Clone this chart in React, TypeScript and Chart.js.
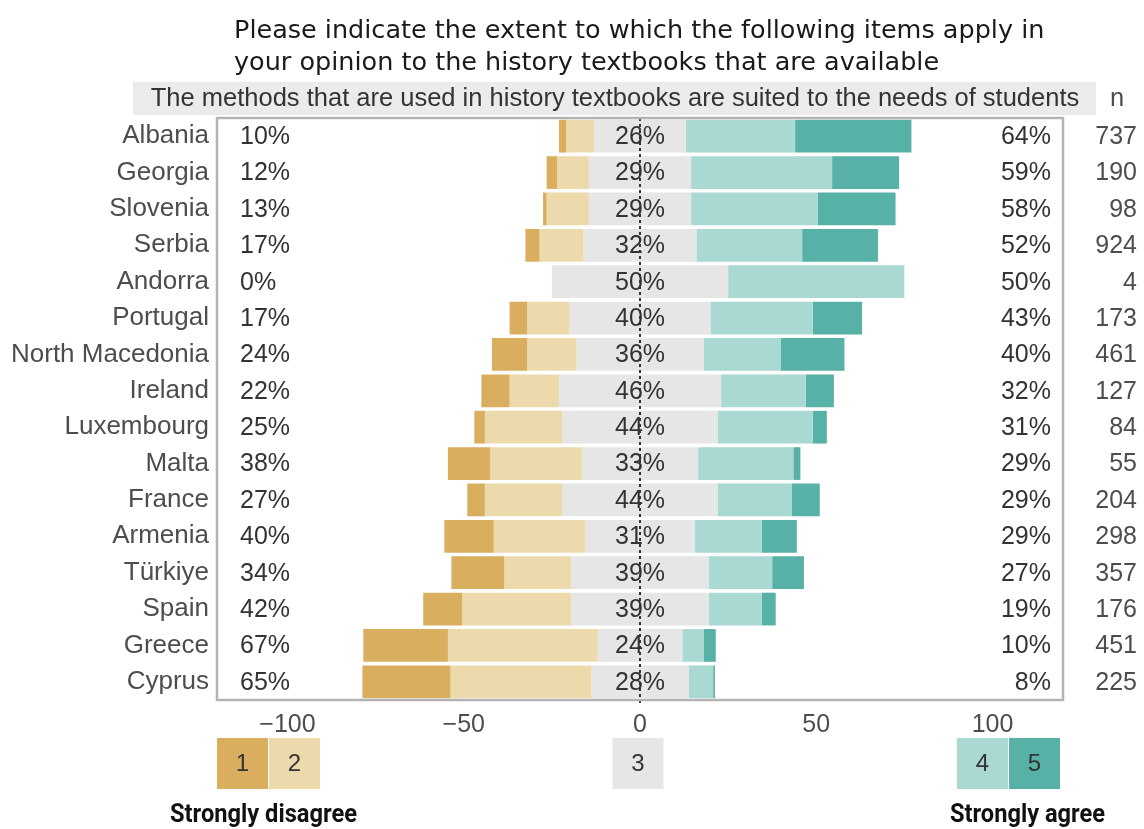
import React, { useEffect, useRef } from "react";
import { Chart, registerables } from "chart.js";

Chart.register(...registerables);

const TITLE_LINES = [
  "Please indicate the extent to which the following items apply in",
  "your opinion to the history textbooks that are available",
];
const ITEM_LABEL = "The methods that are used in history textbooks are suited to the needs of students";
const N_HEADER = "n";

const COUNTRIES = [
  "Albania", "Georgia", "Slovenia", "Serbia", "Andorra", "Portugal", "North Macedonia", "Ireland",
  "Luxembourg", "Malta", "France", "Armenia", "Türkiye", "Spain", "Greece", "Cyprus",
];
const STRONGLY_DISAGREE = [2, 3, 1, 4, 0, 5, 10, 8, 3, 12, 5, 14, 15, 11, 24, 25];
const DISAGREE = [8, 9, 12, 12.5, 0, 12, 14, 14, 22, 26, 22, 26, 19, 31, 42.5, 40];
const NEUTRAL = [26, 29, 29, 32, 50, 40, 36, 46, 44, 33, 44, 31, 39, 39, 24, 27.5];
const AGREE = [31, 40, 36, 30, 50, 29, 22, 24, 27, 27, 21, 19, 18, 15, 6, 7];
const STRONGLY_AGREE = [33, 19, 22, 21.5, 0, 14, 18, 8, 4, 2, 8, 10, 9, 4, 3.5, 0.5];
const N_RESP = [737, 190, 98, 924, 4, 173, 461, 127, 84, 55, 204, 298, 357, 176, 451, 225];

const X_TICKS = [-100, -50, 0, 50, 100];
const LEVELS = ["1", "2", "3", "4", "5"];
const LEFT_CAPTION = "Strongly disagree";
const RIGHT_CAPTION = "Strongly agree";

const COLORS = ["#d9ae5f", "#ecd9ac", "#e6e6e6", "#aad9d4", "#58b1a6"];
const FONT = '"Liberation Sans", Arial, sans-serif';

function segments() {
  const sd: [number, number][] = [];
  const d: [number, number][] = [];
  const ne: [number, number][] = [];
  const a: [number, number][] = [];
  const sa: [number, number][] = [];
  COUNTRIES.forEach((_, i) => {
    const h = NEUTRAL[i] / 2;
    sd.push([-h - DISAGREE[i] - STRONGLY_DISAGREE[i], -h - DISAGREE[i]]);
    d.push([-h - DISAGREE[i], -h]);
    ne.push([-h, h]);
    a.push([h, h + AGREE[i]]);
    sa.push([h + AGREE[i], h + AGREE[i] + STRONGLY_AGREE[i]]);
  });
  return [sd, d, ne, a, sa];
}

const overlay = {
  id: "overlay",
  afterDatasetsDraw(chart: any) {
    const { ctx, chartArea: area, scales } = chart;
    const x = scales.x;
    const y = scales.y;
    ctx.save();
    ctx.font = `25px ${FONT}`;
    ctx.textBaseline = "middle";
    COUNTRIES.forEach((_, i) => {
      const yc = y.getPixelForValue(i) + 1;
      ctx.fillStyle = "#333333";
      ctx.textAlign = "left";
      ctx.fillText(`${Math.round(STRONGLY_DISAGREE[i] + DISAGREE[i])}%`, area.left + 23, yc);
      ctx.textAlign = "center";
      ctx.fillText(`${Math.round(NEUTRAL[i])}%`, x.getPixelForValue(0), yc);
      ctx.textAlign = "right";
      ctx.fillText(`${Math.round(AGREE[i] + STRONGLY_AGREE[i])}%`, area.right - 12, yc);
      ctx.fillStyle = "#4d4d4d";
      ctx.fillText(String(N_RESP[i]), area.right + 74, yc);
    });
    // zero line
    const x0 = x.getPixelForValue(0);
    ctx.strokeStyle = "#333333";
    ctx.lineWidth = 2;
    ctx.setLineDash([3, 3]);
    ctx.beginPath();
    ctx.moveTo(x0, area.top);
    ctx.lineTo(x0, area.bottom + 6);
    ctx.stroke();
    ctx.setLineDash([]);
    // panel border
    ctx.strokeStyle = "#b3b3b3";
    ctx.lineWidth = 2.5;
    ctx.strokeRect(area.left, area.top, area.right - area.left, area.bottom - area.top);
    ctx.restore();
  },
  afterDraw(chart: any) {
    const { ctx, chartArea: area, scales } = chart;
    const x = scales.x;
    ctx.save();
    // title
    ctx.fillStyle = "#1a1a1a";
    ctx.font = `25.5px "DejaVu Sans", sans-serif`;
    ctx.textAlign = "left";
    ctx.textBaseline = "middle";
    ctx.fillText(TITLE_LINES[0], 234, 31);
    ctx.fillText(TITLE_LINES[1], 234, 63);
    // strip
    ctx.fillStyle = "#ebebeb";
    ctx.fillRect(133, 82, 963, 33);
    ctx.fillStyle = "#333333";
    ctx.font = `25.5px ${FONT}`;
    ctx.textAlign = "center";
    ctx.fillText(ITEM_LABEL, 615, 99);
    ctx.fillStyle = "#4d4d4d";
    ctx.fillText(N_HEADER, 1117, 99);
    // legend boxes
    const bw = 51;
    const top = 738;
    const x0 = x.getPixelForValue(0);
    const boxes = [
      area.left,
      area.left + bw + 1,
      x0 - bw / 2 - 2,
      area.right - 3 - 2 * bw - 1,
      area.right - 3 - bw,
    ];
    ctx.font = `24px ${FONT}`;
    boxes.forEach((bx, k) => {
      ctx.fillStyle = COLORS[k];
      ctx.fillRect(bx, top, bw, bw);
      ctx.fillStyle = "#333333";
      ctx.textAlign = "center";
      ctx.fillText(LEVELS[k], bx + bw / 2, top + bw / 2 + 1);
    });
    // captions (condensed bold)
    ctx.fillStyle = "#111111";
    ctx.font = `bold 25px Roboto, sans-serif`;
    const drawCond = (t: string, left: number, width: number) => {
      const w = ctx.measureText(t).width;
      ctx.save();
      ctx.translate(left, 816);
      ctx.scale(width / w, 1);
      ctx.textAlign = "left";
      ctx.fillText(t, 0, 0);
      ctx.restore();
    };
    drawCond(LEFT_CAPTION, 170, 187);
    drawCond(RIGHT_CAPTION, 950, 155);
    ctx.restore();
  },
};

export default function App() {
  const ref = useRef<HTMLCanvasElement>(null);
  useEffect(() => {
    if (!ref.current) return;
    const segs = segments();
    const chart = new Chart(ref.current, {
      type: "bar",
      data: {
        labels: COUNTRIES,
        datasets: LEVELS.map((lv, k) => ({
          label: lv,
          data: segs[k] as any,
          backgroundColor: COLORS[k],
          borderWidth: 0,
          grouped: false,
          barPercentage: 0.9,
          categoryPercentage: 1.0,
        })),
      },
      options: {
        indexAxis: "y",
        animation: false,
        responsive: false,
        devicePixelRatio: 1,
        layout: { padding: { left: 8, right: 81, top: 118, bottom: 89 } },
        plugins: { legend: { display: false }, title: { display: false }, tooltip: { enabled: false } },
        scales: {
          x: {
            type: "linear",
            min: -120,
            max: 120,
            afterBuildTicks: (s: any) => {
              s.ticks = X_TICKS.map((value) => ({ value }));
            },
            afterFit: (s: any) => {
              s.height = 40;
            },
            grid: { display: false, drawTicks: false },
            border: { display: false },
            ticks: {
              padding: 10,
              color: "#4d4d4d",
              font: { family: FONT, size: 25 },
              autoSkip: false,
              maxRotation: 0,
              callback: (v: any) => (Number(v) < 0 ? "\u2212" + Math.abs(Number(v)) : String(v)),
            },
          },
          y: {
            type: "category",
            afterFit: (s: any) => {
              s.width = 209;
            },
            grid: { display: false, drawTicks: false },
            border: { display: false },
            ticks: {
              padding: 8,
              color: "#4d4d4d",
              font: { family: FONT, size: 26 },
              autoSkip: false,
            },
          },
        },
      },
      plugins: [overlay],
    });
    return () => chart.destroy();
  }, []);
  return (
    <div style={{ position: "absolute", left: 0, top: 0, width: 1144, height: 829, background: "#fff" }}>
      <canvas ref={ref} width={1144} height={829} style={{ display: "block" }} />
    </div>
  );
}
